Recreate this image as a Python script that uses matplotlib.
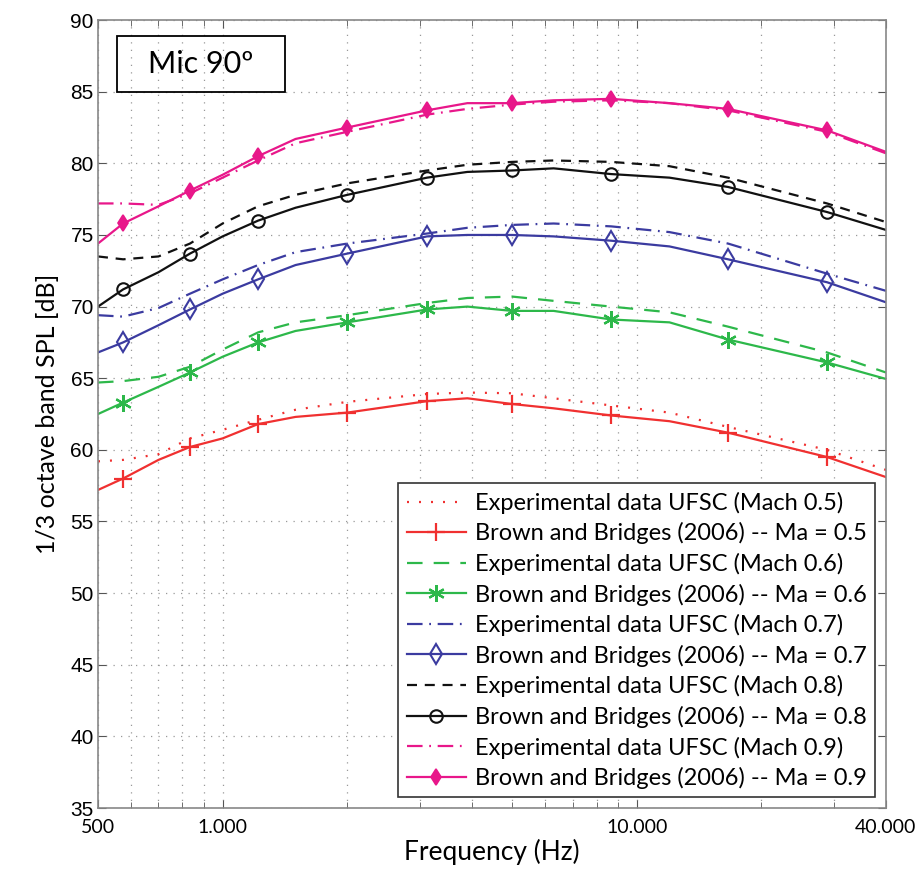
import matplotlib
matplotlib.use('Agg')
import matplotlib.pyplot as plt
from matplotlib.patches import Rectangle
from matplotlib.ticker import FixedLocator, LogLocator, NullFormatter

# frequências (Hz) usadas em todas as curvas
freq = [500, 575, 700, 834, 1000, 1218, 1500, 2000, 3117, 3900, 5000,
        6300, 8673, 12000, 16620, 28820, 40000]
# pontos com marcador nas curvas do modelo
marcas = [1, 3, 5, 7, 8, 10, 12, 14, 15]

exp_05 = [59.2, 59.3, 59.7, 60.8, 61.4, 62.1, 62.8, 63.35, 63.9, 64.0, 63.95,
          63.6, 63.1, 62.6, 61.6, 60.0, 58.6]
bb_05 = [57.2, 58.0, 59.3, 60.2, 60.8, 61.8, 62.3, 62.6, 63.4, 63.6, 63.2,
         62.9, 62.4, 62.0, 61.2, 59.5, 58.1]
exp_06 = [64.7, 64.8, 65.1, 65.8, 67.0, 68.2, 68.9, 69.4, 70.25, 70.6, 70.7,
          70.4, 70.0, 69.6, 68.6, 66.8, 65.4]
bb_06 = [62.5, 63.3, 64.4, 65.4, 66.5, 67.5, 68.3, 68.9, 69.8, 70.0, 69.7,
         69.7, 69.1, 68.9, 67.7, 66.1, 64.95]
exp_07 = [69.4, 69.3, 69.9, 70.9, 71.9, 72.9, 73.8, 74.4, 75.1, 75.5, 75.7,
          75.8, 75.6, 75.2, 74.4, 72.3, 71.1]
bb_07 = [66.8, 67.5, 68.7, 69.8, 70.9, 71.9, 72.9, 73.7, 74.9, 75.0, 75.0,
         74.9, 74.6, 74.2, 73.3, 71.7, 70.3]
exp_08 = [73.5, 73.3, 73.5, 74.4, 75.8, 77.0, 77.8, 78.6, 79.5, 79.9, 80.1,
          80.2, 80.1, 79.8, 79.0, 77.2, 75.9]
bb_08 = [70.0, 71.2, 72.4, 73.7, 74.9, 76.0, 76.9, 77.8, 79.0, 79.4, 79.5,
         79.65, 79.25, 79.0, 78.35, 76.6, 75.35]
exp_09 = [77.2, 77.2, 77.1, 77.9, 79.0, 80.2, 81.4, 82.2, 83.4, 83.8, 84.1,
          84.3, 84.4, 84.2, 83.7, 82.2, 80.7]
bb_09 = [74.4, 75.8, 77.0, 78.1, 79.2, 80.5, 81.7, 82.5, 83.7, 84.2, 84.2,
         84.4, 84.5, 84.2, 83.8, 82.3, 80.8]

ticks_x = [500, 1000, 10000, 40000]
rotulos_x = ['500', '1.000', '10.000', '40.000']
ticks_y = list(range(35, 91, 5))

plt.rcParams['font.family'] = ['Lato', 'DejaVu Sans']

fig = plt.figure(figsize=(9.2, 8.76), dpi=100)
ax = fig.add_axes([0.1065, 0.0776, 0.8565, 0.8995])

vermelho = '#f03030'
verde = '#2db84a'
azul = '#3b3ba0'
preto = '#111111'
rosa = '#e8178a'

lw = 1.6
ax.plot(freq, exp_05, color=vermelho, lw=lw, dashes=(0.9, 4.5),
        label='Experimental data UFSC (Mach 0.5)')
ax.plot(freq, bb_05, color=vermelho, lw=lw, marker='+', ms=13, mew=1.6,
        markevery=marcas, label='Brown and Bridges (2006) -- Ma = 0.5')
ax.plot(freq, exp_06, color=verde, lw=lw, dashes=(7, 5),
        label='Experimental data UFSC (Mach 0.6)')
ax.plot(freq, bb_06, color=verde, lw=lw, marker=(6, 2, 0), ms=12, mew=1.6,
        markevery=marcas, label='Brown and Bridges (2006) -- Ma = 0.6')
ax.plot(freq, exp_07, color=azul, lw=lw, dashes=(7, 3, 0.8, 3),
        label='Experimental data UFSC (Mach 0.7)')
ax.plot(freq, bb_07, color=azul, lw=lw, marker='d', ms=10, mew=1.5,
        mfc='none', markevery=marcas, label='Brown and Bridges (2006) -- Ma = 0.7')
ax.plot(freq, exp_08, color=preto, lw=lw, dashes=(4.5, 3.5),
        label='Experimental data UFSC (Mach 0.8)')
ax.plot(freq, bb_08, color=preto, lw=lw, marker='o', ms=9, mew=1.5,
        mfc='none', markevery=marcas, label='Brown and Bridges (2006) -- Ma = 0.8')
ax.plot(freq, exp_09, color=rosa, lw=lw, dashes=(7, 3, 0.8, 3),
        label='Experimental data UFSC (Mach 0.9)')
ax.plot(freq, bb_09, color=rosa, lw=lw, marker='d', ms=8, mew=1.2,
        markevery=marcas, label='Brown and Bridges (2006) -- Ma = 0.9')

ax.set_xscale('log')
ax.set_xlim(500, 40000)
ax.set_ylim(35, 90)

ax.xaxis.set_major_locator(FixedLocator(ticks_x))
ax.set_xticklabels(rotulos_x)
ax.xaxis.set_minor_locator(LogLocator(base=10, subs=range(2, 10)))
ax.xaxis.set_minor_formatter(NullFormatter())
ax.set_yticks(ticks_y)
for t in ax.get_yticklabels():
    t.set_fontfamily('Liberation Sans')
    t.set_fontsize(15)
for t in ax.get_xticklabels():
    t.set_fontsize(14)

ax.tick_params(which='both', direction='in', top=True, right=True,
               color='#555555')
ax.tick_params(axis='y', pad=3)
ax.tick_params(axis='x', pad=8)
ax.tick_params(which='major', length=6)
ax.tick_params(which='minor', length=4)

ax.grid(True, which='major', axis='y', color='#999999', lw=0.9, ls=(0, (1, 5)))
ax.grid(True, which='both', axis='x', color='#999999', lw=0.9, ls=(0, (1, 5)))
for s in ax.spines.values():
    s.set_color('#888888')
    s.set_linewidth(1.2)

ax.set_xlabel('Frequency (Hz)', fontsize=19, labelpad=2)
ax.set_ylabel('1/3 octave band SPL [dB]', fontsize=18, labelpad=8)

# caixa "Mic 90º"
ax.add_patch(Rectangle((0.024, 0.909), 0.213, 0.071, transform=ax.transAxes,
                       fill=False, edgecolor='black', lw=1.3, zorder=5))
ax.text(0.1305, 0.9445, 'Mic 90º', transform=ax.transAxes, fontsize=22,
        ha='center', va='center', zorder=5)

leg = ax.legend(loc='lower right', fontsize=17, handlelength=2.5,
                labelspacing=0.36, borderpad=0.35, handletextpad=0.4,
                fancybox=False, framealpha=1, borderaxespad=0.45)
leg.get_frame().set_edgecolor('#333333')
leg.get_frame().set_linewidth(1.2)

fig.savefig('out.png', dpi=100)
